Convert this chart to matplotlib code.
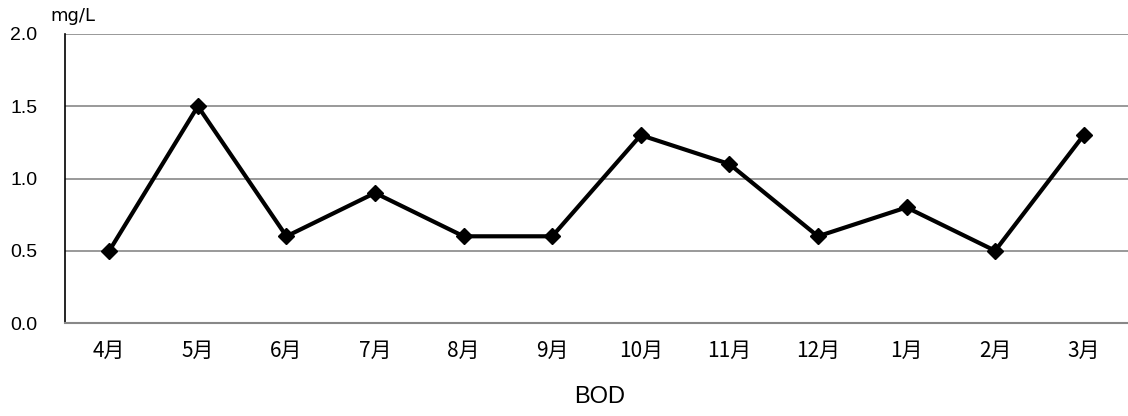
import matplotlib
matplotlib.use('Agg')
import matplotlib.pyplot as plt

plt.rcParams['font.family'] = ['Noto Sans CJK JP', 'DejaVu Sans']

months = ['4月', '5月', '6月', '7月', '8月', '9月', '10月', '11月', '12月', '1月', '2月', '3月']
bod = [0.5, 1.5, 0.6, 0.9, 0.6, 0.6, 1.3, 1.1, 0.6, 0.8, 0.5, 1.3]
yticks = [0.0, 0.5, 1.0, 1.5, 2.0]

fig = plt.figure(figsize=(11.28, 4.16), dpi=100)
ax = fig.add_axes([65/1128, 1-323/416, 1-65/1128, (323-34)/416])

x = list(range(len(months)))
ax.plot(x, bod, color='black', lw=3.0, marker='D', ms=8, zorder=3)

ax.set_xlim(-0.5, len(months)-0.5)
ax.set_ylim(0, 2.0)
ax.set_yticks(yticks)
ax.set_yticklabels(['%.1f' % v for v in yticks], fontsize=14,
                   family=['Liberation Sans', 'DejaVu Sans'])
ax.set_xticks(x)
ax.set_xticklabels(months, fontsize=15)
ax.tick_params(length=0)
ax.tick_params(axis='x', pad=12)
ax.tick_params(axis='y', pad=20)

ax.grid(axis='y', color='#888888', lw=1.2)
ax.set_axisbelow(True)
ax.spines['top'].set_visible(False)
ax.spines['right'].set_visible(False)
ax.spines['left'].set_color('black')
ax.spines['left'].set_linewidth(1.2)
ax.spines['bottom'].set_color('#888888')
ax.spines['bottom'].set_linewidth(1.5)

fig.text(50/1128, 1-16/416, 'mg/L', fontsize=13, va='center', ha='left',
         family=['DejaVu Sans'])
fig.text(600/1128, 1-397/416, 'BOD', fontsize=17, va='center', ha='center',
         family=['Liberation Sans', 'DejaVu Sans'])

fig.savefig('out.png', dpi=100)
